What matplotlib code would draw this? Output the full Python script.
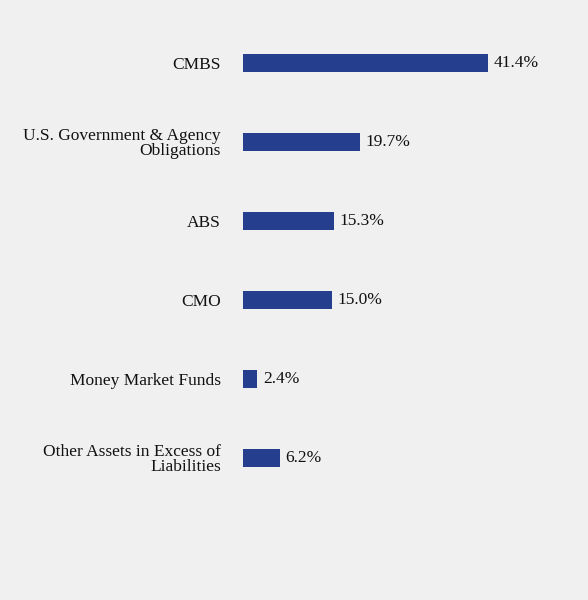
import matplotlib
matplotlib.use("Agg")
import matplotlib.pyplot as plt

categories = ["CMBS", "U.S. Government & Agency\nObligations", "ABS", "CMO",
              "Money Market Funds", "Other Assets in Excess of\nLiabilities"]
values = [41.4, 19.7, 15.3, 15.0, 2.4, 6.2]
value_labels = ["41.4%", "19.7%", "15.3%", "15.0%", "2.4%", "6.2%"]

plt.rcParams['font.family'] = ['Liberation Serif', 'DejaVu Serif']
bg = "#f0f0f0"
fig = plt.figure(figsize=(5.88, 6.0), dpi=100, facecolor=bg)
ax = fig.add_axes([243/588, 0, 1 - 243/588, 1], facecolor=bg)
y = list(range(len(categories)))
ax.barh(y, values, height=0.23, color="#253f8e")
for yi, v, lab in zip(y, values, value_labels):
    ax.annotate(lab, (v, yi), xytext=(4, 0), textcoords="offset points",
                va="center", ha="left", fontsize=12.5, color="#111111")
ax.set_xlim(0, 345/ (245/41.4))
ax.set_ylim((600-63)/79, -63/79)
ax.set_yticks(y)
ax.set_yticklabels(categories, fontsize=12.5, color="#111111", linespacing=0.95)
ax.tick_params(axis="y", length=0, pad=16)
ax.set_xticks([])
for s in ax.spines.values():
    s.set_visible(False)
fig.savefig("out.png", dpi=100, facecolor=bg)
